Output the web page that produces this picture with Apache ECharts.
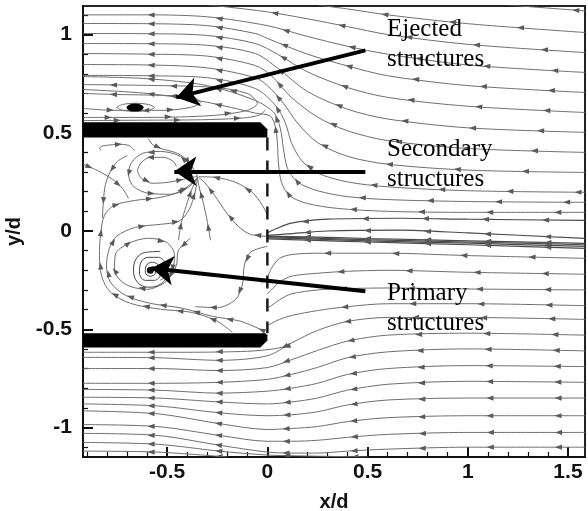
<!DOCTYPE html>
<html>
<head>
<meta charset="utf-8">
<script src="https://cdn.jsdelivr.net/npm/echarts@6/dist/echarts.min.js"></script>
<style>
  html, body { margin: 0; padding: 0; background: #fff; }
  #chart { width: 588px; height: 511px; }
</style>
</head>
<body>
<div id="chart"></div>
<script>
// ---- axis ticks ----
const xMajorTicks = [-0.5, 0, 0.5, 1, 1.5];
const yMajorTicks = [-1, -0.5, 0, 0.5, 1];

// ---- streamlines (x/d, y/d), listed in flow direction ----
// far field above the slot: flow leaving towards the upper left
const upperStreamlines = [
  [[1.585,0.095],[1.0,0.095],[0.6,0.10],[0.35,0.115],[0.2,0.14],[0.11,0.18],[0.07,0.25],[0.055,0.35],[0.05,0.45],[0.04,0.53],[0.015,0.585],[-0.06,0.60],[-0.3,0.655],[-0.6,0.70],[-0.92,0.72]],
  [[1.585,0.146],[1.0,0.15],[0.6,0.16],[0.4,0.175],[0.25,0.205],[0.15,0.25],[0.1,0.32],[0.08,0.42],[0.065,0.52],[0.035,0.6],[-0.06,0.664],[-0.3,0.74],[-0.6,0.775],[-0.92,0.786]],
  [[1.585,0.197],[1.0,0.205],[0.6,0.225],[0.4,0.25],[0.25,0.295],[0.17,0.36],[0.12,0.45],[0.09,0.55],[0.04,0.64],[-0.06,0.725],[-0.3,0.78],[-0.6,0.79],[-0.92,0.792]],
  [[1.585,0.298],[1.0,0.31],[0.6,0.34],[0.4,0.38],[0.25,0.45],[0.15,0.55],[0.08,0.65],[0.0,0.74],[-0.06,0.78],[-0.3,0.83],[-0.6,0.845],[-0.92,0.847]],
  [[1.585,0.40],[1.0,0.42],[0.6,0.46],[0.4,0.51],[0.25,0.58],[0.12,0.68],[0.02,0.79],[-0.06,0.842],[-0.3,0.89],[-0.6,0.90],[-0.92,0.903]],
  [[1.585,0.502],[1.0,0.525],[0.6,0.57],[0.4,0.62],[0.2,0.71],[0.05,0.83],[-0.06,0.903],[-0.3,0.945],[-0.6,0.953],[-0.92,0.954]],
  [[1.585,0.603],[1.0,0.635],[0.6,0.68],[0.4,0.73],[0.2,0.81],[0.05,0.9],[-0.06,0.954],[-0.3,0.995],[-0.6,1.004],[-0.92,1.005]],
  [[1.585,0.705],[1.0,0.74],[0.6,0.79],[0.4,0.84],[0.2,0.9],[0.0,0.98],[-0.06,1.005],[-0.3,1.045],[-0.6,1.055],[-0.92,1.056]],
  [[1.585,0.807],[1.0,0.845],[0.6,0.9],[0.4,0.94],[0.2,0.99],[0.0,1.045],[-0.3,1.09],[-0.6,1.10],[-0.92,1.10]],
  [[1.585,0.908],[1.0,0.95],[0.6,1.0],[0.4,1.04],[0.2,1.08],[0.0,1.115],[-0.2,1.14],[-0.3,1.15]],
  [[1.585,1.01],[1.0,1.055],[0.6,1.1],[0.4,1.13],[0.25,1.15]],
  [[1.585,1.12],[1.2,1.15]]
];

// streamlines converging on the slot centre line
const jetStreamlines = [
  [[1.585,0.054],[1.0,0.06],[0.66,0.065],[0.3,0.06],[0.12,0.04],[0.04,0.01],[0.0,-0.01]],
  [[1.585,-0.037],[1.0,-0.01],[0.66,0.004],[0.3,0.0],[0.1,-0.015],[0.0,-0.022]],
  [[1.585,-0.063],[1.0,-0.05],[0.5,-0.038],[0.2,-0.03],[0.0,-0.026]],
  [[1.585,-0.07],[1.0,-0.056],[0.5,-0.044],[0.2,-0.035],[0.0,-0.03]],
  [[1.585,-0.078],[1.0,-0.062],[0.5,-0.05],[0.2,-0.04],[0.0,-0.035]],
  [[1.585,-0.088],[1.0,-0.07],[0.5,-0.056],[0.2,-0.046],[0.0,-0.04]]
];

// lower half, turning into the slot
const slotInflowStreamlines = [
  [[1.585,-0.139],[1.0,-0.125],[0.6,-0.113],[0.4,-0.113],[0.25,-0.113],[0.12,-0.12],[0.06,-0.14],[0.02,-0.19],[0.0,-0.235],[-0.03,-0.265]],
  [[1.585,-0.22],[1.0,-0.21],[0.6,-0.20],[0.4,-0.205],[0.25,-0.215],[0.12,-0.23],[0.06,-0.26],[0.02,-0.30],[0.0,-0.32]],
  [[1.585,-0.30],[1.0,-0.295],[0.6,-0.29],[0.4,-0.293],[0.25,-0.30],[0.12,-0.32],[0.06,-0.35],[0.02,-0.38],[0.0,-0.39]],
  [[1.585,-0.38],[1.0,-0.37],[0.6,-0.37],[0.4,-0.385],[0.25,-0.405],[0.12,-0.43],[0.06,-0.45],[0.02,-0.47],[0.0,-0.48]]
];

// lower half, passing beneath the lower plate
const lowerStreamlines = [
  [[0.1,-0.585],[0.03,-0.6],[-0.1,-0.612],[-0.4,-0.617],[-0.92,-0.617]],
  [[1.585,-0.45],[1.0,-0.44],[0.6,-0.44],[0.4,-0.46],[0.25,-0.506],[0.12,-0.57],[0.0,-0.635],[-0.24,-0.658],[-0.55,-0.645],[-0.92,-0.643]],
  [[1.585,-0.53],[1.0,-0.52],[0.6,-0.53],[0.4,-0.56],[0.25,-0.608],[0.12,-0.655],[0.0,-0.695],[-0.24,-0.71],[-0.55,-0.70],[-0.92,-0.70]],
  [[1.585,-0.61],[1.0,-0.60],[0.6,-0.615],[0.4,-0.645],[0.25,-0.694],[0.12,-0.73],[0.0,-0.755],[-0.24,-0.77],[-0.55,-0.775],[-0.92,-0.775]],
  [[1.585,-0.69],[1.0,-0.685],[0.6,-0.70],[0.4,-0.73],[0.25,-0.775],[0.12,-0.80],[0.0,-0.815],[-0.24,-0.825],[-0.55,-0.81],[-0.92,-0.806]],
  [[1.585,-0.77],[1.0,-0.765],[0.6,-0.78],[0.4,-0.81],[0.25,-0.85],[0.12,-0.87],[0.0,-0.88],[-0.24,-0.87],[-0.55,-0.85],[-0.92,-0.846]],
  [[1.585,-0.85],[1.0,-0.85],[0.6,-0.86],[0.4,-0.885],[0.25,-0.92],[0.12,-0.935],[0.0,-0.94],[-0.24,-0.925],[-0.55,-0.89],[-0.92,-0.88]],
  [[1.585,-0.94],[1.0,-0.94],[0.6,-0.95],[0.4,-0.97],[0.25,-0.995],[0.12,-1.005],[0.0,-1.01],[-0.24,-0.98],[-0.55,-0.93],[-0.92,-0.915]],
  [[1.585,-1.025],[1.0,-1.025],[0.6,-1.035],[0.4,-1.05],[0.25,-1.065],[0.12,-1.07],[0.0,-1.07],[-0.24,-1.04],[-0.55,-0.995],[-0.92,-0.985]],
  [[1.585,-1.10],[1.0,-1.10],[0.6,-1.11],[0.4,-1.12],[0.25,-1.13],[0.12,-1.13],[0.0,-1.125],[-0.24,-1.09],[-0.55,-1.04],[-0.92,-1.03]],
  [[0.5,-1.15],[0.2,-1.145],[0.0,-1.14],[-0.24,-1.12],[-0.55,-1.085],[-0.92,-1.076]],
  [[-0.2,-1.15],[-0.55,-1.125],[-0.92,-1.12]]
];

// recirculation above the upper plate (ejected structure)
const bubbleStreamlines = [
  [[-0.918,0.624],[-0.768,0.614],[-0.519,0.614],[-0.384,0.629],[-0.334,0.654],[-0.369,0.68],[-0.519,0.69],[-0.768,0.695],[-0.918,0.70]],
  [[-0.918,0.578],[-0.599,0.578],[-0.269,0.588],[-0.1,0.614],[-0.05,0.649],[-0.1,0.70],[-0.269,0.731],[-0.599,0.741],[-0.918,0.745]],
  [[-0.918,0.562],[-0.6,0.564],[-0.334,0.566],[-0.12,0.575],[-0.04,0.59],[-0.01,0.615]],
  [[-0.753,0.629],[-0.723,0.644],[-0.658,0.65],[-0.594,0.644],[-0.564,0.629],[-0.594,0.614],[-0.658,0.609],[-0.723,0.614],[-0.753,0.629]]
];

// flow inside the slot (secondary and primary structures)
const cavityStreamlines = [
  [[-0.828,0.41],[-0.838,0.42],[-0.828,0.431],[-0.803,0.436],[-0.743,0.441],[-0.693,0.436],[-0.663,0.41]],
  [[-0.594,0.471],[-0.574,0.441],[-0.534,0.421],[-0.449,0.395],[-0.399,0.359],[-0.359,0.298],[-0.349,0.278]],
  [[-0.454,0.329],[-0.469,0.354],[-0.519,0.375],[-0.584,0.375],[-0.628,0.349],[-0.648,0.308],[-0.628,0.268],[-0.574,0.243],[-0.494,0.248],[-0.419,0.263],[-0.349,0.278]],
  [[-0.369,0.319],[-0.434,0.38],[-0.534,0.405],[-0.623,0.395],[-0.678,0.349],[-0.693,0.288],[-0.668,0.227],[-0.594,0.192],[-0.484,0.187],[-0.394,0.222],[-0.349,0.273]],
  [[-0.444,-0.047],[-0.429,0.044],[-0.404,0.131],[-0.379,0.207],[-0.349,0.273]],
  [[-0.284,-0.047],[-0.299,0.044],[-0.319,0.141],[-0.339,0.217],[-0.349,0.273]],
  [[0,0.08],[-0.025,0.131],[-0.075,0.197],[-0.16,0.248],[-0.259,0.273],[-0.344,0.276]],
  [[0,-0.027],[-0.085,-0.017],[-0.145,0.024],[-0.205,0.095],[-0.264,0.182],[-0.314,0.248],[-0.344,0.273]],
  [[-0.025,-0.505],[-0.135,-0.459],[-0.274,-0.434],[-0.424,-0.393],[-0.584,-0.368],[-0.708,-0.327],[-0.783,-0.261],[-0.803,-0.175],[-0.788,-0.088],[-0.753,-0.027],[-0.658,0.019],[-0.534,0.034],[-0.44,0.05],[-0.39,0.11],[-0.362,0.192],[-0.349,0.268]],
  [[-0.384,-0.037],[-0.444,-0.098],[-0.454,-0.175],[-0.504,-0.256],[-0.603,-0.297],[-0.708,-0.271],[-0.763,-0.2],[-0.758,-0.118],[-0.693,-0.063],[-0.594,-0.037],[-0.504,-0.057],[-0.464,-0.118],[-0.474,-0.2],[-0.534,-0.25]],
  [[-0.918,0.339],[-0.848,0.308],[-0.773,0.263],[-0.723,0.217],[-0.693,0.166]],
  [[-0.698,0.385],[-0.748,0.354],[-0.783,0.304],[-0.808,0.237],[-0.818,0.156],[-0.823,0.065]],
  [[-0.175,-0.515],[-0.259,-0.454],[-0.384,-0.413],[-0.534,-0.398],[-0.683,-0.368],[-0.783,-0.312],[-0.828,-0.226],[-0.838,-0.124],[-0.833,-0.022],[-0.813,0.08],[-0.763,0.131],[-0.658,0.156],[-0.534,0.171],[-0.434,0.202],[-0.354,0.263]],
  [[0,-0.078],[-0.085,-0.108],[-0.115,-0.175],[-0.125,-0.276],[-0.16,-0.35],[-0.25,-0.39],[-0.36,-0.385]]
];

// primary vortex core, wound outwards from the centre
const vortexSpiral = [
  [-0.584,-0.200],[-0.564,-0.190],[-0.559,-0.215],[-0.584,-0.230],[-0.609,-0.210],[-0.604,-0.175],
  [-0.574,-0.159],[-0.539,-0.180],[-0.534,-0.220],[-0.564,-0.251],[-0.609,-0.251],[-0.638,-0.215],
  [-0.633,-0.164],[-0.594,-0.134],[-0.544,-0.134],[-0.509,-0.169],[-0.504,-0.225],[-0.534,-0.271],
  [-0.594,-0.286],[-0.648,-0.261],[-0.668,-0.200],[-0.653,-0.139],[-0.609,-0.109],[-0.534,-0.104]
];

const ejectedCore = [[-0.66, 0.628]];
const primaryCore = [[-0.584, -0.2]];

// slot walls: [xStart, xEnd, yBottom, yTop]
const upperPlate = [-0.92, 0, 0.476, 0.553];
const lowerPlate = [-0.92, 0, -0.593, -0.52];
// slot exit plane
const slotExit = [[0, 0.476], [0, -0.52]];

// labelled structures: arrow from label to feature
const annotationArrows = [
  [[0.489, 0.919], [-0.454, 0.680]],
  [[0.489, 0.304], [-0.464, 0.304]],
  [[0.489, -0.307], [-0.579, -0.190]]
];
const annotationLabels = [
  ['Ejected', 'structures'],
  ['Secondary', 'structures'],
  ['Primary', 'structures']
];

// ---------------------------------------------------------------
const X_MIN = -0.92, X_MAX = 1.585, Y_MIN = -1.15, Y_MAX = 1.145;

function minorTicks(lo, hi, step, majors) {
  const out = [];
  for (let k = Math.ceil(lo / step); k * step <= hi + 1e-9; k++) {
    const v = Math.round(k * step * 10) / 10;
    if (!majors.some(m => Math.abs(m - v) < 1e-9)) out.push(v);
  }
  return out;
}

// arrowheads placed along a streamline at equal arc length, counted back from its end
function arrowsAlong(line, step, first) {
  const out = [];
  let target = first, acc = 0;
  for (let i = line.length - 1; i > 0; i--) {
    const a = line[i], b = line[i - 1];
    const seg = Math.hypot(a[0] - b[0], a[1] - b[1]);
    while (seg > 0 && acc + seg >= target) {
      const t = (target - acc) / seg;
      const x = a[0] + (b[0] - a[0]) * t, y = a[1] + (b[1] - a[1]) * t;
      out.push([x, y, x - (a[0] - b[0]), y - (a[1] - b[1])]);
      target += step;
    }
    acc += seg;
  }
  return out;
}

const STREAM_COLOR = '#6e6e6e';
const series = [];
const arrowData = [];

function addStreamlines(lines, opts) {
  lines.forEach(line => {
    series.push({
      type: 'line', data: line, symbol: 'none', showSymbol: false,
      smooth: opts.smooth, silent: true, z: 2, clip: true,
      lineStyle: { color: opts.color || STREAM_COLOR, width: opts.width || 1 }
    });
    if (opts.step) arrowsAlong(line, opts.step, opts.first).forEach(a => arrowData.push(a));
  });
}

addStreamlines(upperStreamlines, { smooth: 0.3, step: 0.34, first: 0.34 });
addStreamlines(jetStreamlines, { smooth: 0.3, step: 0.3, first: 0.2, color: '#4a4a4a', width: 1.2 });
addStreamlines(slotInflowStreamlines, { smooth: 0.3, step: 0.34, first: 0.4 });
addStreamlines(lowerStreamlines, { smooth: 0.3, step: 0.34, first: 0.34 });
addStreamlines(bubbleStreamlines, { smooth: 0.3, step: 0.3, first: 0.15 });
addStreamlines(cavityStreamlines, { smooth: 0.3, step: 0.17, first: 0.09 });
addStreamlines([vortexSpiral], { smooth: 0.4, color: '#444' });

// slot exit plane (dashed)
series.push({
  type: 'line', data: slotExit, symbol: 'none', silent: true, z: 5,
  lineStyle: { color: '#1a1a1a', width: 2.5, type: [13, 10] }
});

// streamline arrowheads
series.push({
  type: 'custom', data: arrowData, silent: true, z: 3, clip: true,
  encode: { x: 0, y: 1 },
  renderItem: function (params, api) {
    const p = api.coord([api.value(0), api.value(1)]);
    const q = api.coord([api.value(2), api.value(3)]);
    let dx = p[0] - q[0], dy = p[1] - q[1];
    const L = Math.hypot(dx, dy) || 1; dx /= L; dy /= L;
    const len = 7, hw = 2.6;
    const tip = [p[0] + dx * len / 2, p[1] + dy * len / 2];
    const bx = p[0] - dx * len / 2, by = p[1] - dy * len / 2;
    return {
      type: 'polygon',
      shape: { points: [tip, [bx - dy * hw, by + dx * hw], [bx + dy * hw, by - dx * hw]] },
      style: { fill: '#5a5a5a' }
    };
  }
});

// vortex cores
series.push({
  type: 'scatter', data: ejectedCore, symbol: 'circle', symbolSize: [17, 8],
  itemStyle: { color: '#000', opacity: 1 }, silent: true, z: 4
});
series.push({
  type: 'scatter', data: primaryCore, symbol: 'circle', symbolSize: 7,
  itemStyle: { color: '#111', opacity: 1 }, silent: true, z: 4
});

// slot walls
series.push({
  type: 'custom', data: [upperPlate, lowerPlate], silent: true, z: 6, clip: true,
  encode: { x: [0, 1], y: [2, 3] },
  renderItem: function (params, api) {
    const x0 = api.value(0), x1 = api.value(1), y0 = api.value(2), y1 = api.value(3);
    const tl = api.coord([x0, y1]), br = api.coord([x1, y0]);
    const c = 7;
    const above = (y0 + y1) > 0;
    const pts = above
      ? [[tl[0], tl[1]], [br[0] - c, tl[1]], [br[0], tl[1] + c], [br[0], br[1]], [tl[0], br[1]]]
      : [[tl[0], tl[1]], [br[0] - 2, tl[1]], [br[0], tl[1] + 2], [br[0], br[1] - c], [br[0] - c, br[1]], [tl[0], br[1]]];
    return { type: 'polygon', shape: { points: pts }, style: { fill: '#000' } };
  }
});

// annotation arrows
series.push({
  type: 'lines', coordinateSystem: 'cartesian2d', silent: true, z: 10,
  symbol: ['none', 'arrow'], symbolSize: [16, 22],
  lineStyle: { color: '#000', width: 4, opacity: 1, curveness: 0 },
  data: annotationArrows.map(c => ({ coords: c }))
});

// annotation texts
const labelTops = [29.5, 149.5, 293.5];
const graphic = [];
annotationLabels.forEach((lines, i) => {
  lines.forEach((t, j) => {
    graphic.push({
      type: 'text', x: 387, y: labelTops[i] + j * 30, z: 20, silent: true,
      style: {
        text: t, font: '25px "Liberation Serif", "Times New Roman", serif',
        fill: '#000', align: 'left', verticalAlign: 'middle',
        textAlign: 'left', textVerticalAlign: 'middle'
      }
    });
  });
});

const tickFont = { fontSize: 21, fontWeight: 'bold', fontFamily: '"Liberation Sans", Arial, sans-serif', color: '#111' };

const chart = echarts.init(document.getElementById('chart'), null, { renderer: 'canvas' });
chart.setOption({
  animation: false,
  backgroundColor: '#fff',
  grid: { left: 83, right: 3, top: 6, bottom: 54, show: true, borderColor: '#222', borderWidth: 2, backgroundColor: 'transparent', outerBoundsMode: 'none', containLabel: false },
  xAxis: [
    {
      type: 'value', min: X_MIN, max: X_MAX, position: 'bottom',
      name: 'x/d', nameLocation: 'middle', nameGap: 35,
      nameTextStyle: { fontSize: 20, fontWeight: 'bold', fontFamily: '"Liberation Sans", Arial, sans-serif', color: '#111' },
      axisLine: { onZero: false, lineStyle: { color: '#111', width: 2 } },
      axisTick: { inside: true, length: 10, customValues: xMajorTicks, lineStyle: { color: '#111', width: 2 } },
      axisLabel: Object.assign({ customValues: xMajorTicks, margin: 5, formatter: v => String(v) }, tickFont),
      splitLine: { show: false }
    },
    {
      type: 'value', min: X_MIN, max: X_MAX, position: 'bottom', offset: 0,
      axisLine: { show: false, onZero: false },
      axisTick: { inside: true, length: 5, customValues: minorTicks(X_MIN, X_MAX, 0.1, xMajorTicks), lineStyle: { color: '#111', width: 1.2 } },
      axisLabel: { show: false }, splitLine: { show: false }
    }
  ],
  yAxis: [
    {
      type: 'value', min: Y_MIN, max: Y_MAX, position: 'left',
      name: 'y/d', nameLocation: 'middle', nameGap: 53,
      nameTextStyle: { fontSize: 20, fontWeight: 'bold', fontFamily: '"Liberation Sans", Arial, sans-serif', color: '#111' },
      axisLine: { onZero: false, lineStyle: { color: '#111', width: 2 } },
      axisTick: { inside: true, length: 10, customValues: yMajorTicks, lineStyle: { color: '#111', width: 2 } },
      axisLabel: Object.assign({ customValues: yMajorTicks, margin: 11, formatter: v => String(v) }, tickFont),
      splitLine: { show: false }
    },
    {
      type: 'value', min: Y_MIN, max: Y_MAX, position: 'left', offset: 0,
      axisLine: { show: false, onZero: false },
      axisTick: { inside: true, length: 5, customValues: minorTicks(Y_MIN, Y_MAX, 0.1, yMajorTicks), lineStyle: { color: '#111', width: 1.2 } },
      axisLabel: { show: false }, splitLine: { show: false }
    }
  ],
  series: series,
  graphic: graphic
});
</script>
</body>
</html>
